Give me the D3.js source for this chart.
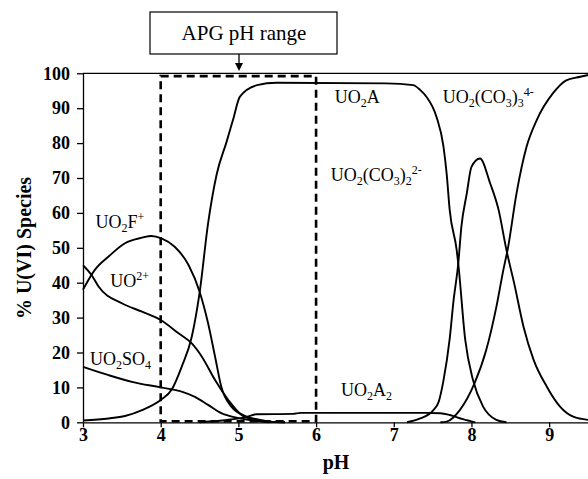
<!DOCTYPE html>
<html>
<head>
<meta charset="utf-8">
<script src="https://cdn.jsdelivr.net/npm/d3@7"></script>
<style>
  body { margin: 0; background: #fff; }
  svg { display: block; }
  .axis text { font-family: "Liberation Serif", "Times New Roman", serif; font-weight: bold; font-size: 18px; fill: #000; }
  .axis path, .axis line { stroke: #000; stroke-width: 1.3px; }
  .lbl { font-family: "Liberation Serif", "Times New Roman", serif; font-size: 17px; fill: #000; }
  .curve { fill: none; stroke: #000; stroke-width: 1.9px; }
</style>
</head>
<body>
<svg id="chart" width="588" height="479"></svg>
<script>
/* species curves, [pH, % of U(VI)] */
var uo2f = [[3,38],[3.15,43.6],[3.33,47.5],[3.54,51.3],[3.76,52.9],[3.88,53.4],[4.01,52.7],
    [4.18,50.3],[4.36,45],[4.5,37.5],[4.61,28.4],[4.7,18.8],[4.78,10.2],[4.91,4.5],
    [5.09,1.8],[5.25,0.8],[5.4,0.2],[5.6,0]];
var uo2 = [[3,45],[3.11,42.2],[3.2,38.9],[3.5,34.1],[3.76,31.7],[4,29.3],[4.23,25.5],
    [4.4,22.6],[4.53,18.8],[4.7,12.1],[4.87,6.4],[5.04,2.1],[5.2,0.8],[5.4,0.2],[5.6,0]];
var uo2so4 = [[3,15.9],[3.33,13.5],[3.63,11.6],[4,10],[4.27,8.8],[4.44,7.3],[4.61,5],
    [4.78,2.6],[4.96,1.4],[5.2,0.5],[5.4,0]];
var uo2a = [[3,0.5],[3.33,1.1],[3.54,1.8],[3.76,3.5],[4,6.4],[4.14,9.3],[4.27,15.9],
    [4.4,24.5],[4.5,37],[4.61,57],[4.72,71],[4.85,80.5],[4.93,86.6],[5.02,93.3],
    [5.24,96.6],[5.49,97.3],[6.9,97.1],[7.25,96.6],[7.34,95.2],[7.42,93.3],[7.55,87.5],
    [7.64,79],[7.68,71.4],[7.72,60.8],[7.81,49.3],[7.83,45.5],[7.92,23.6],[8.02,12.1],
    [8.15,4.5],[8.32,0.7],[8.45,0]];
var uo2a2 = [[4.5,0],[4.9,0.8],[5.1,1.5],[5.23,2.3],[5.7,2.4],[5.8,2.7],[7.4,2.7],
    [7.6,2.6],[7.72,2.1],[7.89,0.9],[8.05,0]];
var uo2co3_2 = [[7.17,0],[7.34,1.1],[7.51,3.5],[7.58,6],[7.64,12],[7.72,24],[7.77,35],
    [7.83,45.5],[7.87,56],[7.94,65.6],[8.0,73.2],[8.11,75.6],[8.24,68.5],[8.35,60.8],
    [8.45,49.4],[8.55,39.8],[8.67,27.4],[8.8,17.9],[8.97,10.2],[9.14,4.5],[9.31,1.6],[9.5,0.7]];
var uo2co3_3 = [[7.6,0],[7.68,0.2],[7.85,3.5],[8.04,11.2],[8.19,20.7],[8.32,33],[8.41,43.6],
    [8.47,50],[8.58,65.6],[8.71,79],[8.84,86.6],[9.05,94.3],[9.22,98],[9.4,99],[9.5,99.5]];

var x_ticks = [3, 4, 5, 6, 7, 8, 9];
var y_ticks = [0, 10, 20, 30, 40, 50, 60, 70, 80, 90, 100];
var apg_range = [4, 6];

/* label text pieces: [text, -1 sub / 0 normal / 1 sup] */
var labels = [
    {pH: 3.16, v: 55.7, parts: [["UO",0],["2",-1],["F",0],["+",1]]},
    {pH: 3.35, v: 38.8, parts: [["UO",0],["2+",1]]},
    {pH: 3.09, v: 16.4, parts: [["UO",0],["2",-1],["SO",0],["4",-1]]},
    {pH: 6.24, v: 91.5, parts: [["UO",0],["2",-1],["A",0]]},
    {pH: 7.63, v: 91.5, parts: [["UO",0],["2",-1],["(CO",0],["3",-1],[")",0],["3",-1],["4-",1]]},
    {pH: 6.19, v: 69, parts: [["UO",0],["2",-1],["(CO",0],["3",-1],[")",0],["2",-1],["2-",1]]},
    {pH: 6.32, v: 7.5, parts: [["UO",0],["2",-1],["A",0],["2",-1]]}
];

var svg = d3.select("svg#chart");
var x = d3.scaleLinear().domain([3, 9.5]).range([83, 588]);
var y = d3.scaleLinear().domain([0, 100]).range([422.3, 73.3]);

// top frame line
svg.append("line").attr("x1", x(3)).attr("x2", x(9.5))
    .attr("y1", y(100)).attr("y2", y(100))
    .attr("stroke", "#000").attr("stroke-width", 1.3);

svg.append("g").attr("class", "axis")
    .attr("transform", "translate(0," + y(0) + ")")
    .call(d3.axisBottom(x).tickValues(x_ticks).tickSize(5).tickSizeOuter(0).tickPadding(1)
        .tickFormat(d3.format("d")));

svg.append("g").attr("class", "axis")
    .attr("transform", "translate(" + x(3) + ",0)")
    .call(d3.axisLeft(y).tickValues(y_ticks).tickSize(6).tickSizeOuter(0).tickPadding(7)
        .tickFormat(d3.format("d")));

var line = d3.line().x(function (d) { return x(d[0]); })
    .y(function (d) { return y(d[1]); }).curve(d3.curveMonotoneX);

[uo2f, uo2, uo2so4, uo2a, uo2a2, uo2co3_2, uo2co3_3].forEach(function (s) {
    svg.append("path").attr("class", "curve").attr("d", line(s));
});

// APG pH range dashed box
svg.append("rect").attr("x", x(apg_range[0])).attr("y", y(99.2))
    .attr("width", x(apg_range[1]) - x(apg_range[0])).attr("height", y(0.3) - y(99.2))
    .attr("fill", "none").attr("stroke", "#000").attr("stroke-width", 2.6)
    .attr("stroke-dasharray", "8,5");

// callout box + arrow
svg.append("rect").attr("x", 150).attr("y", 12).attr("width", 187).attr("height", 42)
    .attr("fill", "#fff").attr("stroke", "#000").attr("stroke-width", 1.2);
svg.append("text").attr("class", "lbl").attr("x", 244).attr("y", 40)
    .attr("text-anchor", "middle").style("font-size", "21px").text("APG pH range");
svg.append("line").attr("x1", 239).attr("x2", 239).attr("y1", 54).attr("y2", 64)
    .attr("stroke", "#000").attr("stroke-width", 1.3);
svg.append("path").attr("d", "M235,63 L243,63 L239,71 Z").attr("fill", "#000");

// species labels
labels.forEach(function (l) {
    var t = svg.append("text").attr("class", "lbl").attr("x", x(l.pH)).attr("y", y(l.v));
    var shift = 0;
    l.parts.forEach(function (p) {
        var target = p[1] == -1 ? 4 : (p[1] == 1 ? -7 : 0);
        t.append("tspan").attr("dy", target - shift)
            .style("font-size", p[1] == 0 ? "18px" : "12px").text(p[0]);
        shift = target;
    });
});

// axis titles
svg.append("text").attr("class", "lbl").attr("x", 336).attr("y", 469)
    .attr("text-anchor", "middle").style("font-weight", "bold").style("font-size", "20px").text("pH");
svg.append("text").attr("class", "lbl").attr("transform", "translate(31,248) rotate(-90)")
    .attr("text-anchor", "middle").style("font-weight", "bold").style("font-size", "20px")
    .text("% U(VI) Species");
</script>
</body>
</html>
